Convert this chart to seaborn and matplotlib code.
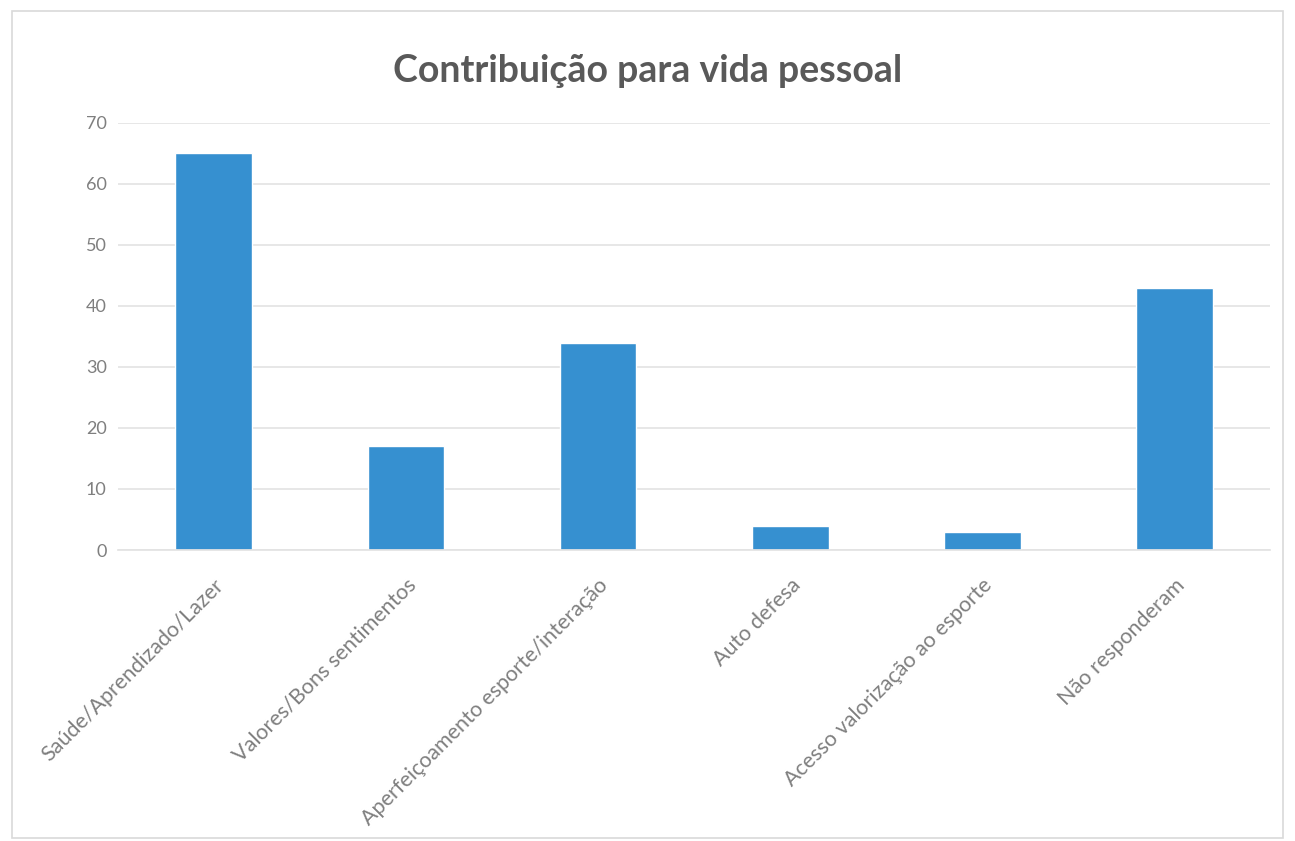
import matplotlib
matplotlib.use("Agg")
import matplotlib.pyplot as plt
import seaborn as sns
import pandas as pd

categories = ["Saúde/Aprendizado/Lazer", "Valores/Bons sentimentos",
              "Aperfeiçoamento esporte/interação", "Auto defesa",
              "Acesso valorização ao esporte", "Não responderam"]
values = [65, 17, 34, 4, 3, 43]
yticks = [0, 10, 20, 30, 40, 50, 60, 70]
title = "Contribuição para vida pessoal"

sns.set_theme(style="white")
plt.rcParams['font.family'] = ['Lato', 'DejaVu Sans']

df = pd.DataFrame({"cat": categories, "val": values})

fig = plt.figure(figsize=(12.95, 8.41), dpi=100)
# chart border
fig.patches.append(matplotlib.patches.Rectangle((0.009, 0.003), 0.982, 0.984,
                   transform=fig.transFigure, fill=False, edgecolor="#d9d9d9", lw=1.2))
ax = fig.add_axes([0.091, 0.346, 0.890, 0.508])
sns.barplot(data=df, x="cat", y="val", color="#3690d0", width=0.4, ax=ax, saturation=1)
ax.set_ylim(0, 70)
ax.set_yticks(yticks)
ax.grid(axis="y", color="#e3e3e3", lw=1.2)
ax.set_axisbelow(True)
for s in ["top", "right", "left"]:
    ax.spines[s].set_visible(False)
ax.spines["bottom"].set_color("#e3e3e3")
ax.set_xlabel("")
ax.set_ylabel("")
ax.tick_params(axis="both", length=0, colors="#7f7f7f")
ax.tick_params(axis="y", pad=8, labelsize=13)
ax.tick_params(axis="x", pad=18, labelsize=15.5)
plt.setp(ax.get_xticklabels(), rotation=45, ha="right", rotation_mode="anchor")
fig.text(0.5, 0.915, title, ha="center", va="center", fontsize=27,
         fontweight="bold", color="#595959")
fig.savefig("out.png", dpi=100)
